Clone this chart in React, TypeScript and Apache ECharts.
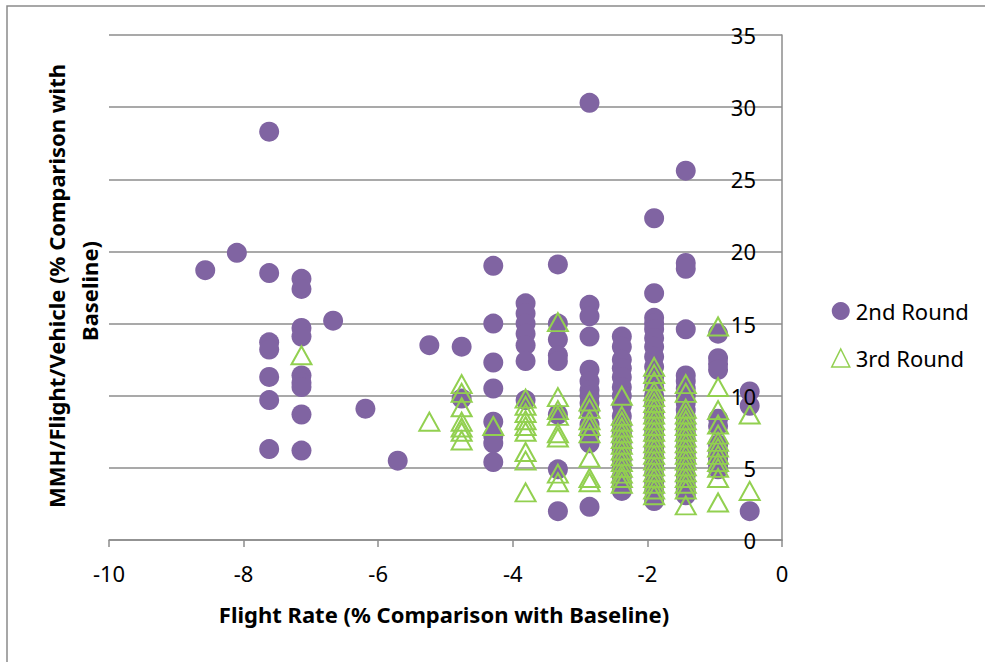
import React, { useEffect, useRef } from "react";
import * as echarts from "echarts";

// Flight rate columns (% comparison with baseline)
const flightRates = [
  -8.57, -8.1, -7.62, -7.14, -6.67, -6.19, -5.71, -5.24, -4.76, -4.29, -3.81,
  -3.33, -2.86, -2.38, -1.9, -1.43, -0.95, -0.48,
];

// MMH/Flight/Vehicle values per flight-rate column, 2nd Round
const round2Values: number[][] = [
  [18.7],
  [19.9],
  [28.3, 18.5, 13.7, 13.2, 11.3, 9.7, 6.3],
  [18.1, 17.4, 14.7, 14.1, 11.4, 10.9, 10.6, 8.7, 6.2],
  [15.2],
  [9.1],
  [5.5],
  [13.5],
  [13.4, 9.8],
  [19.0, 15.0, 12.3, 10.5, 8.2, 7.2, 6.7, 5.4],
  [16.4, 15.7, 15.0, 14.3, 13.5, 12.4, 9.7],
  [19.1, 15.0, 13.9, 12.8, 12.4, 8.7, 4.9, 2.0],
  [30.3, 16.3, 15.5, 14.1, 11.8, 11.0, 10.4, 10.0, 9.5, 9.0, 8.0, 7.3, 6.7, 2.3],
  [14.1, 13.4, 12.5, 11.9, 11.3, 10.6, 10.0, 9.3, 8.6, 8.0, 7.4, 6.8, 6.2, 5.6, 5.0, 4.4, 3.9, 3.4],
  [22.3, 17.1, 15.4, 15.0, 14.6, 14.0, 13.4, 12.7, 12.0, 11.3, 10.6, 10.0, 9.4, 8.8, 8.2, 7.6, 7.0, 6.4, 5.8, 5.2, 4.6, 4.0, 3.4, 2.7],
  [25.6, 19.2, 18.8, 14.6, 11.4, 11.0, 10.5, 10.0, 9.5, 9.0, 8.5, 8.0, 7.5, 7.0, 6.5, 6.0, 5.5, 5.0, 4.5, 4.0, 3.5, 3.1],
  [14.3, 12.6, 12.2, 11.8, 8.4, 7.9, 6.6, 6.0, 5.6, 5.2, 4.9],
  [10.3, 9.3, 2.0],
];

// MMH/Flight/Vehicle values per flight-rate column, 3rd Round
const round3Values: number[][] = [
  [],
  [],
  [],
  [12.8],
  [],
  [],
  [],
  [8.2],
  [10.8, 10.2, 9.2, 8.2, 7.8, 7.5, 6.9],
  [7.9],
  [9.8, 9.3, 8.8, 8.3, 7.9, 7.5, 6.1, 5.5, 3.3],
  [15.1, 9.9, 9.0, 8.6, 7.4, 7.1, 4.6, 4.0],
  [9.6, 9.1, 8.3, 7.9, 7.4, 5.7, 4.3, 4.0],
  [10.0, 8.6, 8.2, 7.8, 7.4, 7.0, 6.6, 6.2, 5.8, 5.4, 5.0, 4.6, 4.3, 3.9],
  [12.0, 11.5, 11.0, 10.3, 9.9, 9.5, 9.1, 8.7, 8.3, 7.9, 7.5, 7.1, 6.7, 6.3, 5.9, 5.5, 5.1, 4.7, 4.3, 3.9, 3.5, 3.1],
  [10.8, 10.2, 9.1, 8.7, 8.3, 7.9, 7.5, 7.1, 6.7, 6.3, 5.9, 5.5, 5.1, 4.7, 4.3, 3.9, 3.5, 2.4],
  [14.8, 10.6, 9.0, 8.0, 7.3, 6.8, 6.4, 5.9, 5.4, 5.0, 4.3, 2.6],
  [8.7, 3.4],
];

const seriesNames = ["2nd Round", "3rd Round"];
const xTitle = "Flight Rate (% Comparison with Baseline)";
const yTitleLines = ["MMH/Flight/Vehicle (% Comparison with", "Baseline)"];

const toPairs = (cols: number[][]) =>
  cols.flatMap((ys, i) => ys.map((y) => [flightRates[i], y]));

const PURPLE = "#8064A2";
const GREEN = "#92D050";
const GRID = "#8C8C8C";
const FONT = "'Noto Sans', 'Liberation Sans', sans-serif";

export default function App() {
  const ref = useRef<HTMLDivElement>(null);

  useEffect(() => {
    if (!ref.current) return;
    const chart = echarts.init(ref.current, undefined, { renderer: "svg" });
    const yBase = { type: "value", position: "right", min: 0, max: 35, interval: 5 };
    chart.setOption({
      animation: false,
      backgroundColor: "#ffffff",
      textStyle: { fontFamily: FONT },
      grid: { left: 109, right: 203, top: 35, bottom: 122, containLabel: false },
      xAxis: {
        type: "value",
        min: -10,
        max: 0,
        interval: 2,
        axisLine: { show: true, onZero: false, lineStyle: { color: GRID, width: 1.5 } },
        axisTick: { show: true, length: 7, inside: false, lineStyle: { color: GRID, width: 1.5 } },
        axisLabel: { color: "#000", fontSize: 22, margin: 22, fontFamily: FONT },
        splitLine: { show: false },
      },
      yAxis: [
        {
          ...yBase,
          axisLine: { show: true, lineStyle: { color: GRID, width: 1.5 } },
          axisTick: { show: false },
          axisLabel: { show: false },
          splitLine: { show: true, lineStyle: { color: GRID, width: 1.5 } },
        },
        {
          ...yBase,
          z: 10,
          axisLine: { show: false },
          axisTick: { show: false },
          axisLabel: { inside: true, color: "#000", fontSize: 22, margin: 26, fontFamily: FONT },
          splitLine: { show: false },
        },
      ],
      legend: {
        orient: "vertical",
        left: 826,
        top: 295,
        itemGap: 25,
        itemWidth: 18,
        itemHeight: 18,
        textStyle: { fontSize: 22, color: "#000", fontFamily: FONT, padding: [0, 0, 0, 1] },
        data: [
          { name: seriesNames[0], icon: "circle", itemStyle: { color: PURPLE } },
          {
            name: seriesNames[1],
            icon: "triangle",
            itemStyle: { color: "transparent", borderColor: GREEN, borderWidth: 1.5 },
          },
        ],
      },
      graphic: [
        {
          type: "rect",
          shape: { x: 7, y: 6, width: 1000, height: 700 },
          style: { fill: "none", stroke: "#8A8A8A", lineWidth: 1.5 },
          silent: true,
          z: -10,
        },
        {
          type: "text",
          x: 444,
          y: 614,
          style: {
            text: xTitle,
            fontSize: 22,
            fontWeight: "bold",
            fontFamily: FONT,
            fill: "#000",
            align: "center",
            verticalAlign: "middle",
          },
        },
        {
          type: "text",
          x: 56,
          y: 286,
          rotation: Math.PI / 2,
          style: {
            text: yTitleLines[0],
            fontSize: 22,
            fontWeight: "bold",
            fontFamily: FONT,
            fill: "#000",
            align: "center",
            verticalAlign: "middle",
          },
        },
        {
          type: "text",
          x: 89,
          y: 291,
          rotation: Math.PI / 2,
          style: {
            text: yTitleLines[1],
            fontSize: 22,
            fontWeight: "bold",
            fontFamily: FONT,
            fill: "#000",
            align: "center",
            verticalAlign: "middle",
          },
        },
      ],
      series: [
        {
          name: seriesNames[0],
          type: "scatter",
          symbol: "circle",
          symbolSize: 20,
          itemStyle: { color: PURPLE, opacity: 1 },
          data: toPairs(round2Values),
          z: 2,
        },
        {
          name: seriesNames[1],
          type: "scatter",
          symbol: "triangle",
          symbolSize: [20, 18],
          itemStyle: { color: "transparent", borderColor: GREEN, borderWidth: 2, opacity: 1 },
          data: toPairs(round3Values),
          z: 3,
        },
      ],
    });
    return () => chart.dispose();
  }, []);

  return (
    <div
      ref={ref}
      style={{ position: "fixed", left: 0, top: 0, width: 985, height: 662 }}
    />
  );
}
